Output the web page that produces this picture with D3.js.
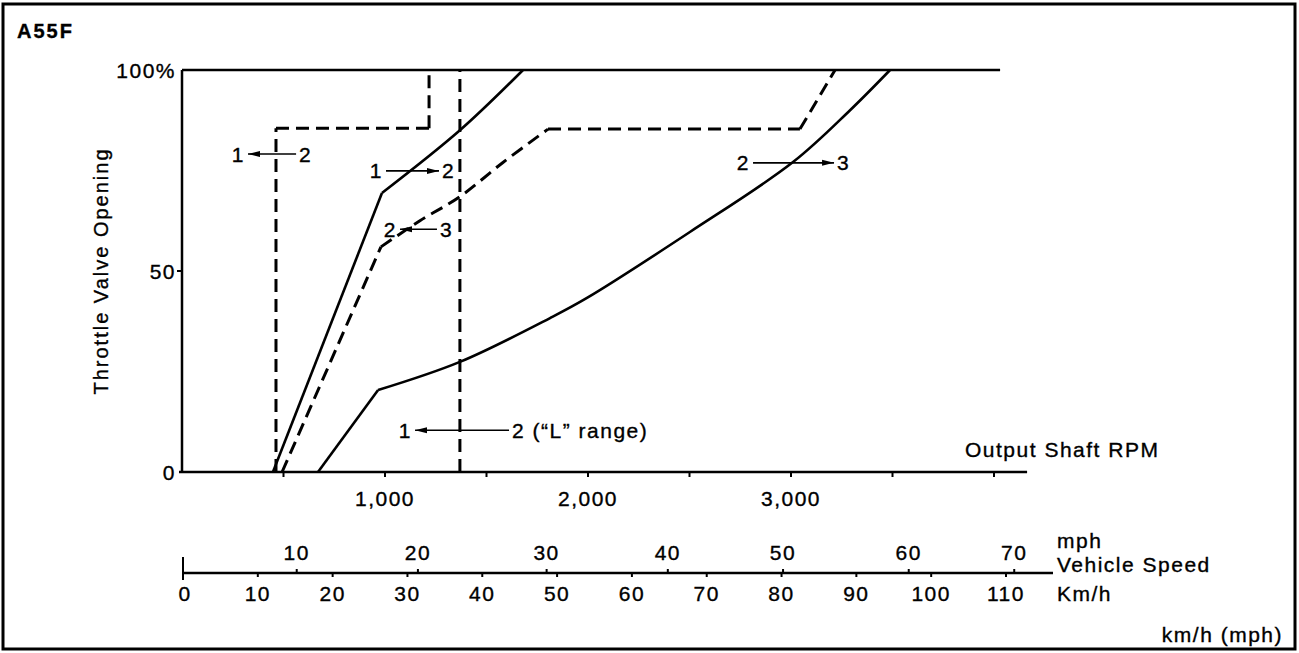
<!DOCTYPE html>
<html>
<head>
<meta charset="utf-8">
<script src="https://cdn.jsdelivr.net/npm/d3@7"></script>
<style>
  body { margin: 0; background: #fff; }
  text { font-family: "Liberation Sans", Arial, sans-serif; fill: #000; stroke: #000; stroke-width: 0.35px; letter-spacing: 1.5px; }
</style>
</head>
<body>
<div id="chart"></div>
<script>
// shift pattern A55F, x = output shaft rpm, y = throttle opening %
var rpmTicks = [500, 1000, 1500, 2000, 2500, 3000, 3500, 4000];
var rpmLabels = [1000, 2000, 3000];
var pctTicks = [0, 50, 100];
var kmhTicks = [0, 10, 20, 30, 40, 50, 60, 70, 80, 90, 100, 110];
var mphTicks = [10, 20, 30, 40, 50, 60, 70];
// where each mph tick sits on the km/h scale, as printed
var mphAtKmh = [15.2, 31.4, 48.6, 64.8, 80.2, 97.0, 111.1];

// each line is a list of pieces, kinks sit between pieces
var up12 = [
  [[448, 0], [985, 69.4]],
  [[985, 69.4], [1369, 85], [1680, 100]]
];
var up23 = [
  [[670, 0], [966, 20.4]],
  [[966, 20.4], [1369, 27.4], [1813, 38.3], [1995, 43.3], [2502, 59.7], [3010, 77.1], [3291, 90], [3488, 100]]
];
var down12 = [
  [[463, 0], [463, 85.5]],
  [[463, 85.5], [1217, 85.5]],
  [[1217, 85.5], [1217, 100]]
];
var down23 = [
  [[493, 0], [980, 56]],
  [[980, 56], [1172, 62.5], [1369, 68.5], [1581, 77], [1803, 85.3]],
  [[1803, 85.3], [3044, 85.3]],
  [[3044, 85.3], [3217, 100]]
];
var lRange = [
  [[1369, 0], [1369, 100]]
];
var topLineEnd = 4030;
var axisEnd = 4163;

// arrows: y, tail, head, left label, right label
var arrows = [
  { y: 79.1, tail: 562, head: 325, left: "1", right: "2" },
  { y: 74.9, tail: 1005, head: 1266, left: "1", right: "2" },
  { y: 60.4, tail: 1256, head: 1074, left: "2", right: "3" },
  { y: 76.9, tail: 2813, head: 3212, left: "2", right: "3" },
  { y: 10.4, tail: 1611, head: 1148, left: "1", right: "2 (\u201CL\u201D range)" }
];

var svgWidth = 1299;
var svgHeight = 653;

var svg = d3.select("#chart")
  .append("svg")
  .attr("width", svgWidth)
  .attr("height", svgHeight);

svg.append("rect")
  .attr("x", 3).attr("y", 4)
  .attr("width", 1292).attr("height", 645)
  .attr("fill", "none")
  .attr("stroke", "#000")
  .attr("stroke-width", 3);

svg.append("text")
  .attr("x", 17).attr("y", 38)
  .style("font-size", "20px")
  .style("font-weight", "bold")
  .style("letter-spacing", "2px")
  .text("A55F");

var x = d3.scaleLinear().domain([0, 4000]).range([182, 994]);
var y = d3.scaleLinear().domain([0, 100]).range([472, 70]);
var kmh = d3.scaleLinear().domain([0, 110]).range([183, 1006]);

var defs = svg.append("defs");
defs.append("marker")
  .attr("id", "head")
  .attr("markerUnits", "userSpaceOnUse")
  .attr("viewBox", "0 -4 12 8")
  .attr("refX", 12).attr("refY", 0)
  .attr("markerWidth", 12).attr("markerHeight", 8)
  .attr("orient", "auto")
  .append("path")
  .attr("d", "M0,-3L12,0L0,3Z")
  .attr("fill", "#000");

// axes
var g = svg.append("g");
g.append("line")
  .attr("x1", x(0)).attr("x2", x(0))
  .attr("y1", y(0)).attr("y2", y(100))
  .attr("stroke", "#000").attr("stroke-width", 2.5);
g.append("line")
  .attr("x1", x(0) - 3).attr("x2", x(axisEnd))
  .attr("y1", y(0)).attr("y2", y(0))
  .attr("stroke", "#000").attr("stroke-width", 2.5);
g.append("line")
  .attr("x1", x(0)).attr("x2", x(topLineEnd))
  .attr("y1", y(100)).attr("y2", y(100))
  .attr("stroke", "#000").attr("stroke-width", 2.5);

g.selectAll(".xt").data(rpmTicks).enter().append("line")
  .attr("x1", d => x(d)).attr("x2", d => x(d))
  .attr("y1", y(0)).attr("y2", y(0) + 5)
  .attr("stroke", "#000").attr("stroke-width", 2);

g.selectAll(".xl").data(rpmLabels).enter().append("text")
  .attr("x", d => x(d)).attr("y", 506)
  .attr("text-anchor", "middle")
  .style("font-size", "21px")
  .text(d => d3.format(",")(d));

g.append("line")
  .attr("x1", x(0) - 5).attr("x2", x(0))
  .attr("y1", y(50)).attr("y2", y(50))
  .attr("stroke", "#000").attr("stroke-width", 2);

g.selectAll(".yl").data(pctTicks).enter().append("text")
  .attr("x", 176).attr("y", d => y(d))
  .attr("dy", "0.36em")
  .attr("text-anchor", "end")
  .style("font-size", "21px")
  .text(d => d == 100 ? "100%" : d);

svg.append("text")
  .attr("transform", "translate(108," + y(50) + ") rotate(-90)")
  .attr("text-anchor", "middle")
  .style("font-size", "20px")
  .style("letter-spacing", "2px")
  .text("Throttle Valve Opening");

svg.append("text")
  .attr("x", 965).attr("y", 457)
  .style("font-size", "21px")
  .text("Output Shaft RPM");

// shift lines
var line = d3.line()
  .x(d => x(d[0]))
  .y(d => y(d[1]))
  .curve(d3.curveCatmullRom.alpha(0.5));

function drawPieces(pieces, dashed) {
  svg.append("g").selectAll("path")
    .data(pieces)
    .enter()
    .append("path")
    .attr("d", line)
    .attr("fill", "none")
    .attr("stroke", "#000")
    .attr("stroke-width", dashed ? 3 : 2.6)
    .attr("stroke-linejoin", "round")
    .attr("stroke-dasharray", dashed ? "13,7" : null);
}
drawPieces(up12, false);
drawPieces(up23, false);
drawPieces(down12, true);
drawPieces(down23, true);
drawPieces(lRange, true);

// arrows with labels
var ag = svg.append("g");
arrows.forEach(function(a) {
  var lo = Math.min(a.tail, a.head);
  var hi = Math.max(a.tail, a.head);
  ag.append("line")
    .attr("x1", x(a.tail)).attr("x2", x(a.head))
    .attr("y1", y(a.y)).attr("y2", y(a.y))
    .attr("stroke", "#000").attr("stroke-width", 1.6)
    .attr("marker-end", "url(#head)");
  ag.append("text")
    .attr("x", x(lo) - 3).attr("y", y(a.y))
    .attr("dy", "0.36em")
    .attr("text-anchor", "end")
    .style("font-size", "21px")
    .text(a.left);
  ag.append("text")
    .attr("x", x(hi) + 3).attr("y", y(a.y))
    .attr("dy", "0.36em")
    .style("font-size", "21px")
    .text(a.right);
});

// vehicle speed scale
var sy = 573;
var sg = svg.append("g");
sg.append("line")
  .attr("x1", kmh(0)).attr("x2", 1053)
  .attr("y1", sy).attr("y2", sy)
  .attr("stroke", "#000").attr("stroke-width", 2.5);
sg.append("line")
  .attr("x1", kmh(0)).attr("x2", kmh(0))
  .attr("y1", sy - 16).attr("y2", sy + 7)
  .attr("stroke", "#000").attr("stroke-width", 2);
sg.selectAll(".kt").data(kmhTicks.slice(1)).enter().append("line")
  .attr("x1", d => kmh(d)).attr("x2", d => kmh(d))
  .attr("y1", sy).attr("y2", sy + 4)
  .attr("stroke", "#000").attr("stroke-width", 2);
sg.selectAll(".kl").data(kmhTicks).enter().append("text")
  .attr("x", d => kmh(d) + (d == 0 ? 2 : 0)).attr("y", 601)
  .attr("text-anchor", "middle")
  .style("font-size", "21px")
  .text(d => d);
sg.selectAll(".mt").data(mphAtKmh).enter().append("line")
  .attr("x1", d => kmh(d)).attr("x2", d => kmh(d))
  .attr("y1", sy).attr("y2", sy - 4)
  .attr("stroke", "#000").attr("stroke-width", 2);
sg.selectAll(".ml").data(mphTicks).enter().append("text")
  .attr("x", (d, i) => kmh(mphAtKmh[i])).attr("y", 560)
  .attr("text-anchor", "middle")
  .style("font-size", "21px")
  .text(d => d);

sg.append("text").attr("x", 1057).attr("y", 548).style("font-size", "21px").text("mph");
sg.append("text").attr("x", 1057).attr("y", 572).style("font-size", "21px").text("Vehicle Speed");
sg.append("text").attr("x", 1057).attr("y", 601).style("font-size", "21px").text("Km/h");
sg.append("text").attr("x", 1283).attr("y", 642).attr("text-anchor", "end").style("font-size", "21px").text("km/h (mph)");
</script>
</body>
</html>
